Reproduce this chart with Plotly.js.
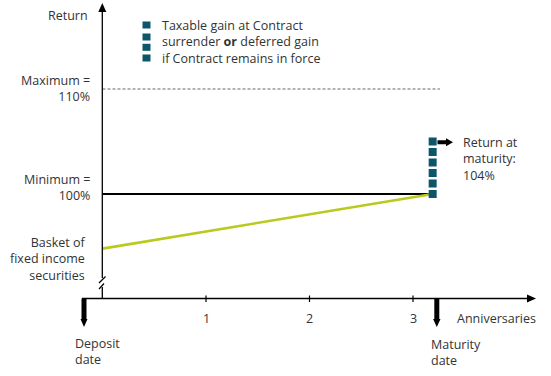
<!DOCTYPE html>
<html>
<head>
<meta charset="utf-8">
<script src="https://cdn.plot.ly/plotly-3.0.1.min.js"></script>
<style>html,body{margin:0;padding:0;background:#fff;}#chart{width:551px;height:376px;}</style>
</head>
<body>
<div id="chart"></div>
<script>
// ---- data ----
const anniversaries = [1, 2, 3];
const anniversaryLabels = ["1", "2", "3"];
const minimumReturn = 100;
const maximumReturn = 110;
const startX = 0;
const maturityX = 3.19;
const maximumEndX = 3.26;
const basketValues = [94.8, 100];
const gainLevels = [100, 101, 102, 103, 104, 105];

// ---- layout helpers (pixel -> paper) ----
const W = 551, H = 376;
const px = x => x / W;
const py = y => 1 - y / H;
const TXT = '#333333';
const FONT = 'Open Sans, sans-serif';
const FS = 12.5;

function line(x0, y0, x1, y1, w, c) {
  return {type: 'line', xref: 'paper', yref: 'paper', x0: px(x0), y0: py(y0), x1: px(x1), y1: py(y1),
          line: {color: c || '#000', width: w || 1.3}};
}
function poly(pts, c) {
  let d = pts.map((p, i) => (i ? 'L' : 'M') + px(p[0]) + ',' + py(p[1])).join(' ') + ' Z';
  return {type: 'path', xref: 'paper', yref: 'paper', path: d, fillcolor: c || '#000', line: {width: 0}};
}
function label(text, x, y, anchor, opts) {
  return Object.assign({text: text, xref: 'paper', yref: 'paper', x: px(x), y: py(y),
          xanchor: anchor || 'left', yanchor: 'middle', showarrow: false, borderpad: 0,
          align: anchor === 'right' ? 'right' : 'left',
          font: {family: FONT, size: FS, color: TXT}}, opts || {});
}

const traces = [
  {x: [startX, maximumEndX], y: [maximumReturn, maximumReturn], mode: 'lines',
   line: {color: '#9a9a9a', width: 1.5, dash: '3px,2px'}, hoverinfo: 'skip'},
  {x: [startX, maturityX], y: [minimumReturn, minimumReturn], mode: 'lines',
   line: {color: '#000', width: 2}, hoverinfo: 'skip'},
  {x: [startX, maturityX], y: basketValues, mode: 'lines',
   line: {color: '#b8ca1e', width: 2.6}, hoverinfo: 'skip'},
  {x: gainLevels.map(() => maturityX), y: gainLevels, mode: 'markers',
   marker: {symbol: 'square', size: 8, color: '#0d566a'}, hoverinfo: 'skip'}
];

const shapes = [
  // y axis with break
  line(102.3, 11, 102.3, 278),
  line(102.3, 287, 102.3, 298.5),
  line(99, 283, 105.5, 276.5, 1.2),
  line(99, 289, 104, 283.5, 1.2),
  poly([[98.3, 12], [106.3, 12], [102.3, 3]]),
  // x axis
  line(82, 298.5, 528, 298.5),
  poly([[527, 294.5], [527, 302.5], [536, 298.5]]),
  // deposit arrow
  poly([[81.5, 298.5], [86.5, 298.5], [86.5, 319], [87.5, 319], [84, 327], [80.5, 319], [81.5, 319]]),
  // maturity arrow
  poly([[434.3, 298.5], [439.3, 298.5], [439.3, 319], [440.5, 319], [436.8, 327], [433.1, 319], [434.3, 319]]),
  // return arrow
  poly([[437.5, 140.3], [446, 140.3], [446, 138.3], [453, 142.3], [446, 146.3], [446, 144.3], [437.5, 144.3]]),
];
// ticks
anniversaries.forEach(a => {
  shapes.push({type: 'line', xref: 'x', yref: 'paper', x0: a, x1: a, y0: py(295.5), y1: py(302),
               line: {color: '#000', width: 1.2}});
});
// legend squares
[25, 37, 47.3, 58].forEach(y => shapes.push({type: 'rect', xref: 'paper', yref: 'paper',
  x0: px(142.5), x1: px(150.5), y0: py(y - 3.5), y1: py(y + 3.5), fillcolor: '#0d566a', line: {width: 0}}));

const annotations = [
  label('Return', 88.5, 16, 'right'),
  label('Maximum =<br>110%', 91, 88.5, 'right'),
  label('Minimum =<br>100%', 91, 187, 'right'),
  label('Basket of<br>fixed income<br>securities', 87, 258.8, 'right', {font: {family: FONT, size: FS, color: TXT}}),
  label('Taxable gain at Contract<br>surrender <b>or</b> deferred gain<br>if Contract remains in force', 161, 42.5),
  label('Return at<br>maturity:<br>104%', 462, 159),
  label('Anniversaries', 456, 318.5),
  label('Deposit<br>date', 74, 351.5),
  label('Maturity<br>date', 430, 352.5)
];
anniversaries.forEach((a, i) => {
  annotations.push(Object.assign(label(anniversaryLabels[i], 0, 318, 'center'), {xref: 'x', x: a}));
});

const layout = {
  width: W, height: H,
  margin: {l: 0, r: 0, t: 0, b: 0},
  paper_bgcolor: '#fff', plot_bgcolor: '#fff',
  showlegend: false,
  xaxis: {range: [-102.5 / 103.5, (W - 102.5) / 103.5], visible: false, fixedrange: true},
  yaxis: {range: [100 - 182 / 10.5, 100 + 194 / 10.5], visible: false, fixedrange: true},
  shapes: shapes,
  annotations: annotations
};

Plotly.newPlot('chart', traces, layout, {displayModeBar: false, staticPlot: true});
</script>
</body>
</html>
